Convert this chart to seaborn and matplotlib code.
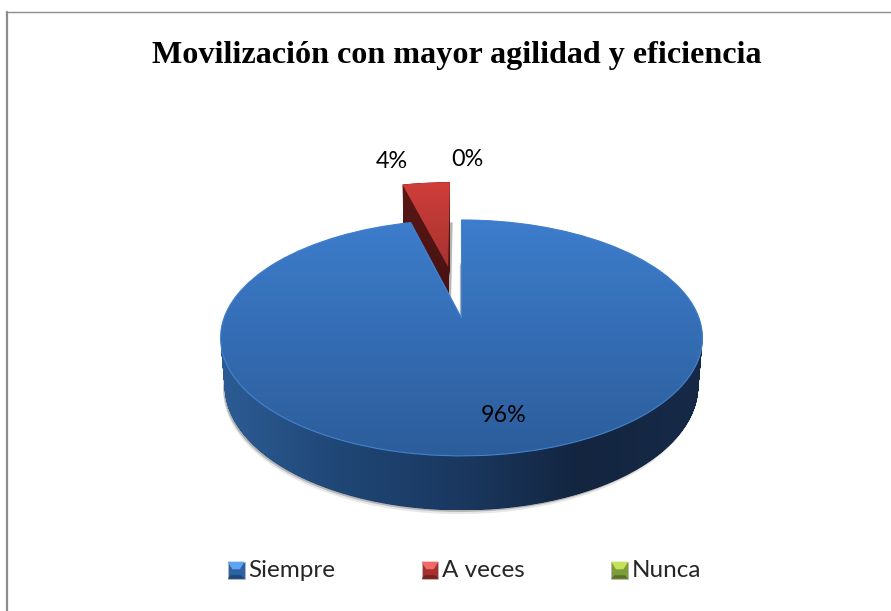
import numpy as np
import seaborn as sns
import matplotlib
matplotlib.use("Agg")
import matplotlib.pyplot as plt
from matplotlib.lines import Line2D
from matplotlib.legend_handler import HandlerPatch
from matplotlib.patches import PathPatch, Polygon, Rectangle
from matplotlib.path import Path
from matplotlib.transforms import Transform

categorias = ["Siempre", "A veces", "Nunca"]
valores = [96, 4, 0]
separacion = [0, 0.485, 0]
titulo = "Movilización con mayor agilidad y eficiencia"

# picture geometry, in pixels
W, H = 891, 611
CX, CY = 461.5, 318


class Perspectiva(Transform):
    """Tilted disc seen from the front: unit pie coords -> pixel coords."""
    input_dims = output_dims = 2

    def __init__(self, z=0.0, dx=0.0):
        super().__init__()
        self.z, self.dx = z, dx

    def transform_non_affine(self, values):
        values = np.asarray(values, dtype=float)
        x, y = values[:, 0], values[:, 1]
        w = 1 + 0.169 * y + 0.017 * self.z
        return np.column_stack([CX + self.dx + 237.5 * x / w,
                                CY - (114.6 * y - 48.5 * self.z) / w])


def capa(ax, indice, z=0.0, dx=0.0):
    """One pie of the real values at height z of the disc; keeps one slice."""
    wedges, _ = ax.pie(valores, explode=separacion, startangle=90, counterclock=False)
    for i, w in enumerate(wedges):
        if i != indice:
            w.remove()
    w = wedges[indice]
    w.set_transform(Perspectiva(z, dx) + ax.transData)
    w.set_linewidth(0)
    return w


def degradado(ax, parche, colores, zorder, vertical=True):
    grad = np.linspace(0, 1, 256).reshape(-1, 1) if vertical else np.linspace(0, 1, 256).reshape(1, -1)
    cmap = sns.blend_palette(colores, as_cmap=True)
    ext = parche.get_path().get_extents(parche.get_transform() - ax.transData)
    im = ax.imshow(grad, cmap=cmap, aspect="auto", zorder=zorder,
                   extent=[ext.x0, ext.x1, ext.y1, ext.y0], interpolation="bilinear")
    im.set_clip_path(parche)
    parche.set_visible(False)
    return im


def lateral(ax, indice, zs):
    """Union of the pie layers from top to bottom, as one patch."""
    paths = []
    for z in zs:
        w = capa(ax, indice, z)
        paths.append(Perspectiva(z).transform_path(w.get_path()))
        w.remove()
    p = PathPatch(Path.make_compound_path(*paths), transform=ax.transData, lw=0)
    ax.add_patch(p)
    return p


class HandlerCaja(HandlerPatch):
    """Bevelled legend key."""
    def __init__(self, tonos):
        super().__init__()
        self.tonos = tonos

    def create_artists(self, legend, orig, xd, yd, width, height, fontsize, trans):
        base, claro, oscuro = self.tonos
        x0, y0 = -xd, -yd - 1.5
        s = 12.2
        caja = Rectangle((x0, y0), s, s, fc=base, ec="#b8b8b8", lw=0.6, transform=trans)
        arriba = Polygon([(x0, y0 + s), (x0 + s, y0 + s), (x0 + s * 0.72, y0 + s * 0.55), (x0 + s * 0.28, y0 + s * 0.55)],
                         fc=claro, lw=0, transform=trans)
        abajo = Polygon([(x0, y0), (x0 + s, y0), (x0 + s * 0.8, y0 + s * 0.2), (x0 + s * 0.2, y0 + s * 0.2)],
                        fc=oscuro, lw=0, transform=trans)
        return [caja, arriba, abajo]


sns.set_theme(style="white")
fig = plt.figure(figsize=(W / 100, H / 100), dpi=100, facecolor="white")
ax = fig.add_axes([0, 0, 1, 1])

zs = np.linspace(0, 1, 80)

# shadows
for z, dx, alfa in [(1.07, -2, 0.18), (1.03, -1.5, 0.45)]:
    w = capa(ax, 0, z, dx)
    w.set_facecolor("#7a7a7a")
    w.set_alpha(alfa)
    w.set_zorder(4)
w = capa(ax, 1, 1.0, 2.5)
w.set_facecolor("#b5b5b5")
w.set_zorder(1)

# A veces
degradado(ax, lateral(ax, 1, zs), ["#5a1816", "#431110"], 2)
degradado(ax, capa(ax, 1), ["#d03e39", "#a63331"], 3)

# Siempre
degradado(ax, lateral(ax, 0, zs), ["#2c5c95", "#1f4675", "#1a3860", "#13253f", "#162a48"], 5, vertical=False)
degradado(ax, capa(ax, 0), ["#3d7dcc", "#2c5d9b"], 6)
# light rim on the front half only
borde = capa(ax, 0)
borde.set_facecolor("none")
borde.set_edgecolor("#4482cf")
borde.set_linewidth(0.8)
borde.set_zorder(7)
borde.set_clip_path(Rectangle((0, 345), W, H, transform=ax.transData))

ax.set_aspect("auto")
ax.set_xlim(0, W)
ax.set_ylim(H, 0)
ax.axis("off")

# frame of the chart: left and top only
ax.add_line(Line2D([7, 7], [12, H], color="#8c8c8c", lw=1.6, zorder=8))
ax.add_line(Line2D([6, W], [12, 12], color="#8c8c8c", lw=1.0, zorder=8))

ax.text(456.5, 56, titulo, family="Liberation Serif", weight="bold", fontsize=23.1,
        ha="center", va="center", color="black", zorder=9)

for txt, x, y in [(f"{valores[0]}%", 504, 415), (f"{valores[1]}%", 392, 161), (f"{valores[2]}%", 467, 159)]:
    ax.text(x, y, txt, family="Lato", fontsize=16.8, ha="center", va="center", color="black", zorder=9)

tonos = [("#2d62a5", "#5ea4ee", "#1f4676"), ("#a5302d", "#f06a66", "#7a1f1d"), ("#7d9c3a", "#c4e25c", "#5a7226")]
claves = [Rectangle((0, 0), 1, 1, label=c) for c in categorias]
ax.legend(claves, categorias, loc="center", bbox_to_anchor=(464.5 / W, 1 - 570 / H),
          ncols=3, frameon=False, prop={"family": "Lato", "size": 17.5},
          handlelength=0.7, handletextpad=0.15, columnspacing=3.55, borderpad=0,
          handler_map={k: HandlerCaja(t) for k, t in zip(claves, tonos)})

fig.savefig("out.png", dpi=100)
